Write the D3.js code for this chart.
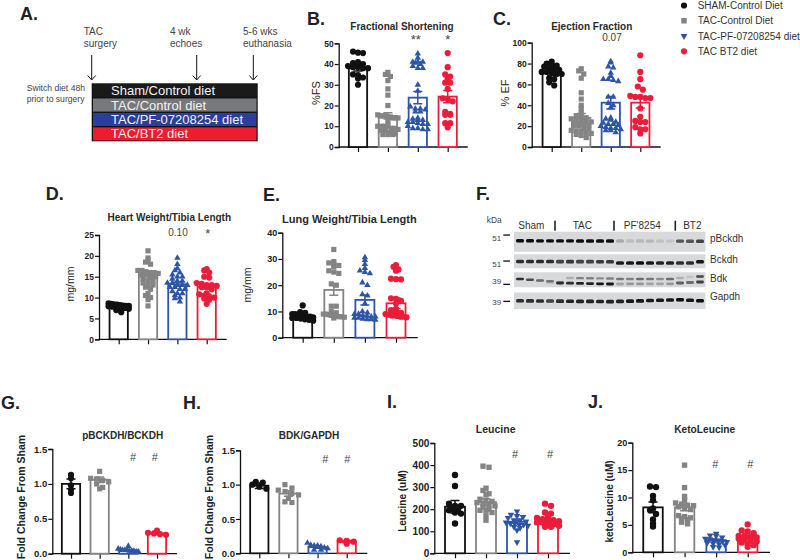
<!DOCTYPE html>
<html><head><meta charset="utf-8">
<script src="https://cdn.jsdelivr.net/npm/d3@7/dist/d3.min.js"></script>
<style>html,body{margin:0;padding:0;background:#fff}svg{display:block}text{font-family:"Liberation Sans",Arial,sans-serif}</style>
</head><body><svg id="c" width="800" height="560"></svg>
<script>
const groups = ["Sham","TAC","PF","BT2"];
const legendLabels = ["SHAM-Control Diet","TAC-Control Diet","TAC-PF-07208254 diet","TAC BT2 diet"];
const colors = ["#111111","#848484","#2c55a6","#ec1c3a"];

const fsSham=[46,45.5,45.3,41,40.5,40.2,40,39,38.5,38.5,38,38,35,34.7,33.5,33,30];
const fsTac=[36,35,34,32,28,25,20,15.5,15,15,15,14.5,14.5,14,14,14,13,11,10,10,10,10,9,9,8.5,8,8,7,6.5,6,6,6];
const fsPf=[45,43,41,41,41,40.5,40,39,38,38,30,27,19.5,18.5,18.5,18,17,17,14,13.5,13,13,12,12,11.5,11,11,10,9,9,8.5,8.5];
const fsBt2=[45.3,38.5,35,34,33,31,31,28,23.5,23,22,17,16,15.5,15.5,11.5,11.5,9.5];
const fsMeans=[38,15,23.8,24.3], fsSems=[1.3,1.5,3,3];

const efSham=[82,80,79,78,77,75,75,74,72,72,71,70,70,66,65,62,59];
const efTac=[75,73,70,66,52,46,40,37,33,30,29,28,27,26,25,25,24,23,22,22,21,20,20,18,17,16,15,15,14,13,12,11,9];
const efPf=[82,81,77,76,71,68,65,65,64,63,48,48,42,40,38,28,27,26,24,23,22,22,21,20,19,18,18,17,16,16,14];
const efBt2=[88,72,65,58,55,49,48,48,47,47,37,29,25,24,24,19,17,17,13];
const efMeans=[70.6,28,42.5,42.5], efSems=[2,4,6,5];

const hwSham=[8.6,8.5,8.4,8.3,8.2,8.1,8,8,7.9,7.8,7.7,7.6,7.5,7.3,7,6.5];
const hwTac=[21.2,19.5,19,18.5,18,16.5,16.5,16.2,16,16,15.8,15.5,15.5,15,15,14.5,14,14,13.5,13,13,12.5,12,11,10.5,10,9.5,8];
const hwPf=[19.5,18,17,16.5,16,15.5,15,15,14.5,14,14,13.5,13.5,13,13,13,12.5,12.5,12,12,11.5,11,11,10.5,10,9.8,9];
const hwBt2=[16.8,16.5,16,15,14.8,13.5,13.3,13,13,12.8,12.5,12.5,12,11,10.8,10.5,10.3,10,9.8,9.5,8.5];
const hwMeans=[8,15,13.2,12.6], hwSems=[0.15,0.6,0.5,0.5];

const lwSham=[12.3,9.8,9.5,9,9,8.8,8.5,8.5,8,8,7.8,7.5,7.5,7.3,7,6.8,6.5];
const lwTac=[33.6,29,28.5,28,27.5,27,25.5,25,24.5,20.5,20,12,12,10,9.5,9,9,8.8,8.5,8.5,8.2,8,8,7.8,7.5];
const lwPf=[30.6,29.5,28,26.5,25.5,25,24.5,21,20,16.5,16,13,10,9.5,9,9,8.5,8.3,8,8,7.5,7.5,7.2,7,7,6.8];
const lwBt2=[27.7,27,26,25.5,22.5,22.3,22.2,15,14.8,14,13,11,10.5,10,9.5,9,8.8,8.5,8.5,8.3,8,8,7.8];
const lwMeans=[7.8,18.2,14.4,13.1], lwSems=[0.3,2,1.9,2];

const pbSham=[1.13,1.08,0.98,0.92,0.87];
const pbTac=[1.18,1.08,1.07,1.05,1.03,1.0,0.95,0.93];
const pbPf=[0.11,0.07,0.06,0.05,0.05,0.05,0.04,0.04,0.04,0.03,0.03];
const pbBt2=[0.33,0.30,0.29,0.28,0.27];
const pbMeans=[1.0,1.06,0.05,0.29], pbSems=[0.07,0.04,0.01,0.015];

const bdSham=[1.04,1.03,1.0,0.97,0.94];
const bdTac=[1.0,0.95,0.92,0.9,0.87,0.85,0.8,0.75,0.74];
const bdPf=[0.15,0.12,0.11,0.11,0.1,0.08,0.07,0.05,0.05];
const bdBt2=[0.19,0.18,0.17,0.14];
const bdMeans=[0.985,0.87,0.09,0.17], bdSems=[0.04,0.04,0.015,0.015];

const leuSham=[355,305,225,215,215,205,200,195,185,180,135];
const leuTac=[395,390,295,285,270,265,245,240,235,230,225,220,215,210,200,195,195,185,170,150];
const leuPf=[190,175,170,165,160,150,150,145,140,135,135,130,130,125,120,115,105,50];
const leuBt2=[225,215,185,180,165,160,155,150,150,145,140,140,135,130,125,120,120];
const leuMeans=[211,232,143,150], leuSems=[28,15,8,8];

const klSham=[12.0,11.9,10.3,9.5,8,7.7,7,6,5.2,4.7];
const klTac=[15.9,11.8,10.2,9.5,9,8.8,8.6,8.5,8.3,8,7.8,6.7,6.5,6.3,6.2,6,5.5,5.2];
const klPf=[3.4,3.1,3,2.7,2.5,2.4,2.2,2.1,2,1.9,1.7,1.6,1.5,1.3,1,0.9];
const klBt2=[5.1,4,3.8,3.5,3,3,2.8,2.7,2.5,2.4,2.2,2,1.8,1.5,1.3,1];
const klMeans=[8.2,8.2,2.2,2.7], klSems=[1,0.6,0.2,0.25];

const timelineRows=["Sham/Control diet","TAC/Control diet","TAC/PF-07208254 diet","TAC/BT2 diet"];
const timelineFill=["#1a1a1a","#77787b","#2b3f9a","#ed1c2e"];
const blotGroups=["Sham","TAC","PF'8254","BT2"];
const blotTargets=["pBckdh","Bckdh","Bdk","Gapdh"];
const pBckdhBand=[1,1,1,1,1,1,1,1,1,1,.22,.12,.15,.16,.12,.1,.65,.65,.75];
const bckdhBand=[.85,.85,.85,.85,.75,.8,.75,.75,.8,.8,.95,.95,1,.95,.9,.9,.85,.85,.95];
const bdkUpperBand=[.85,.7,.55,.45,.1,.2,.4,.4,.35,.4,.45,.4,.5,.45,.35,.55,.2,.1,.7];
const bdkLowerBand=[0,0,0,.1,.85,.85,.9,.9,.95,.95,.25,.3,.3,.25,.25,.3,.6,.5,.75];
const gapdhBand=[.85,.85,.85,.75,.85,.9,.9,.9,.9,.9,.9,.95,.95,.95,.95,.95,1,.95,1];

const svg=d3.select("#c");
const ink="#222";
const T=(s,x,y,size,o={})=>svg.append("text").attr("x",x).attr("y",y).attr("font-size",size)
  .attr("font-weight",o.w||"normal").attr("fill",o.c||ink).attr("text-anchor",o.a||"start").text(s);
const symbols=[d3.symbolCircle,d3.symbolSquare,d3.symbolTriangle,d3.symbolCircle];

// Prism-style scatter: values falling in the same pixel row are spread symmetrically
function swarm(vals,y,rowH,spacing,maxW){
  const rows=d3.groups([...vals].sort((a,b)=>b-a),v=>Math.round(y(v)/rowH));
  const out=[];
  rows.forEach(([,vs])=>{
    const n=vs.length, sp=n>1?Math.min(spacing,2*maxW/(n-1)):0;
    [...vs].forEach((v,i)=>out.push({x:(i-(n-1)/2)*sp,y:y(v)}));
  });
  return out;
}

function panel(p){
  const g=svg.append("g");
  const x=d3.scalePoint().domain(groups).range([p.x0,p.x1]);
  const y=d3.scaleLinear().domain([0,p.max]).range([p.y0,p.y1]);
  const yG=g.append("g").attr("transform",`translate(${p.ax},0)`)
    .call(d3.axisLeft(y).tickValues(p.ticks).tickFormat(p.fmt||d3.format("d")).tickSize(4).tickPadding(1));
  const xG=g.append("g").attr("transform",`translate(0,${p.y0})`)
    .call(d3.axisBottom(d3.scalePoint().domain(groups).range([p.x0,p.x1])).tickSize(5).tickFormat(""));
  xG.select(".domain").attr("d",`M${p.ax},0H${p.end}`);
  g.selectAll(".domain").attr("stroke","#111").attr("stroke-width",1.3);
  g.selectAll(".tick line").attr("stroke","#111").attr("stroke-width",1.2);
  yG.selectAll("text").attr("font-size",p.tick).attr("font-weight","bold").attr("fill","#222").attr("font-family",'"Liberation Sans"');
  groups.forEach((k,i)=>{
    const c=colors[i], cx=x(k), m=p.means[i], s=p.sems[i];
    g.append("rect").attr("x",cx-p.bw/2).attr("y",y(m)).attr("width",p.bw).attr("height",p.y0-y(m))
      .attr("fill","#fff").attr("stroke",c).attr("stroke-width",1.8);
    const path=d3.symbol(symbols[i],i===1?p.ms*.9:(i===2?p.ms*.6:p.ms))();
    swarm(p.vals[i],y,p.row||4,p.sp||5,p.bw/2+1).forEach(pt=>{
      g.append("path").attr("d",path).attr("fill",c)
       .attr("transform",`translate(${cx+pt.x},${pt.y})`+(i===2&&p.down?" rotate(180)":""));
    });
    g.append("path").attr("fill","none").attr("stroke",c).attr("stroke-width",1.5)
      .attr("d",`M${cx-4.5},${y(m+s)}H${cx+4.5}M${cx},${y(m+s)}V${y(m-s)}M${cx-4.5},${y(m-s)}H${cx+4.5}`);
  });
  T(p.title,p.tx,p.ty,p.tf||10,{w:"bold",a:"middle",c:"#2a2a2a"});
  const yl=T(p.yl,0,0,p.ylf||10,{w:p.ylw||"bold",a:"middle"});
  yl.attr("transform",`translate(${p.ylx},${p.yly}) rotate(-90)`).attr("x",0).attr("y",0);
  (p.notes||[]).forEach(n=>T(n.s,n.x,n.y,n.f||10,{a:"middle",c:"#444"}));
  T(p.letter,p.lx,p.ly,18,{w:"bold"});
}

const panels=[
 {letter:"B.",lx:307,ly:25,x0:358,x1:447.7,ax:338.7,end:467.7,y0:147,y1:43.3,max:50,ticks:[0,10,20,30,40,50],tick:8.5,bw:18.3,ms:30,
  vals:[fsSham,fsTac,fsPf,fsBt2],means:fsMeans,sems:fsSems,title:"Fractional Shortening",tx:402,ty:29.5,yl:"%FS",ylx:320,yly:93,ylf:11,ylw:"normal",
  notes:[{s:"**",x:415.7,y:43.5,f:13},{s:"*",x:447.7,y:43.5,f:13}]},
 {letter:"C.",lx:493,ly:25,x0:551.7,x1:640.3,ax:531.7,end:660.7,y0:147,y1:42.7,max:100,ticks:[0,20,40,60,80,100],tick:8.5,bw:18.3,ms:30,
  vals:[efSham,efTac,efPf,efBt2],means:efMeans,sems:efSems,title:"Ejection Fraction",tx:591.7,ty:29.5,yl:"% EF",ylx:509,yly:93,ylf:11,ylw:"normal",
  notes:[{s:"0.07",x:612,y:41}]},
 {letter:"D.",lx:45.7,ly:200,x0:118.7,x1:206.7,ax:99,end:226.7,y0:339.3,y1:235,max:25,ticks:[0,5,10,15,20,25],tick:8.5,bw:18.3,ms:30,
  vals:[hwSham,hwTac,hwPf,hwBt2],means:hwMeans,sems:hwSems,title:"Heart Weight/Tibia Length",tx:169.3,ty:221,tf:10,yl:"mg/mm",ylx:74,yly:284,ylf:10.5,ylw:"normal",
  notes:[{s:"0.10",x:178,y:236},{s:"*",x:207.7,y:238,f:13}]},
 {letter:"E.",lx:263,ly:200.5,x0:302.7,x1:396,ax:282.3,end:417.7,y0:337.7,y1:232.7,max:40,ticks:[0,10,20,30,40],tick:9,bw:19,ms:30,
  vals:[lwSham,lwTac,lwPf,lwBt2],means:lwMeans,sems:lwSems,title:"Lung Weight/Tibia Length",tx:349.3,ty:222.5,tf:11,yl:"mg/mm",ylx:251,yly:285,ylf:10.5,ylw:"normal"},
 {letter:"G.",lx:1,ly:409,x0:71,x1:157,ax:52.3,end:177,y0:553.7,y1:449,max:1.5,ticks:[0,.5,1,1.5],fmt:d3.format(".1f"),tick:9.5,bw:18.3,ms:30,row:5,sp:6,
  vals:[pbSham,pbTac,pbPf,pbBt2],means:pbMeans,sems:pbSems,title:"pBCKDH/BCKDH",tx:122.7,ty:439,tf:10,yl:"Fold  Change From Sham",ylx:25,yly:497,ylf:10.5,
  notes:[{s:"#",x:133,y:460.5,f:11},{s:"#",x:154.7,y:460.5,f:11}]},
 {letter:"H.",lx:183,ly:409,x0:259.3,x1:346.7,ax:240,end:367.3,y0:553.3,y1:450.3,max:1.5,ticks:[0,.5,1,1.5],fmt:d3.format(".1f"),tick:9.5,bw:18.3,ms:30,row:6,sp:7,
  vals:[bdSham,bdTac,bdPf,bdBt2],means:bdMeans,sems:bdSems,title:"BDK/GAPDH",tx:309,ty:439,tf:10,yl:"Fold  Change From Sham",ylx:213,yly:497,ylf:10.5,
  notes:[{s:"#",x:325.3,y:462.5,f:11},{s:"#",x:347.3,y:462.5,f:11}]},
 {letter:"I.",lx:387,ly:408,x0:455,x1:548,ax:434.3,end:570,y0:553.3,y1:443,max:500,ticks:[0,100,200,300,400,500],tick:10,bw:20,ms:32,down:true,sp:6,
  vals:[leuSham,leuTac,leuPf,leuBt2],means:leuMeans,sems:leuSems,title:"Leucine",tx:495.7,ty:433,tf:10.5,yl:"Leucine  (uM)",ylx:406,yly:501,ylf:10,
  notes:[{s:"#",x:515,y:458,f:11},{s:"#",x:550,y:458,f:11}]},
 {letter:"J.",lx:588,ly:408,x0:653,x1:747.7,ax:632.3,end:770,y0:552.3,y1:442.7,max:20,ticks:[0,5,10,15,20],tick:9,bw:19.5,ms:32,down:true,sp:6,
  vals:[klSham,klTac,klPf,klBt2],means:klMeans,sems:klSems,title:"KetoLeucine",tx:704.7,ty:433,tf:10.2,yl:"ketoLeucine  (uM)",ylx:612.5,yly:501.5,ylf:10,
  notes:[{s:"#",x:715.3,y:468,f:11},{s:"#",x:750.3,y:468,f:11}]}
];
panels.forEach(panel);

// legend
const legendY=d3.scalePoint().domain(legendLabels).range([5.5,51.3]);
legendLabels.forEach((l,i)=>{
  const sym=symbols[i];
  svg.append("path").attr("d",d3.symbol(sym,i===3?30:(i===2?20:30))()).attr("fill",colors[i])
    .attr("transform",`translate(684,${legendY(l)})`+(i===2?" rotate(180)":""));
  T(l,697.7,legendY(l)+3.5,10,{c:"#333"});
});

// panel A: timeline
T("A.",20,20,18,{w:"bold"});
[["TAC","surgery",83.7],["4 wk","echoes",170],["5-6 wks","euthanasia",243]].forEach(a=>{
  T(a[0],a[2],35,10,{c:"#444"}); T(a[1],a[2],47,10,{c:"#444"});
});
[91.7,196.7,253.3].forEach(x=>{
  svg.append("path").attr("fill","none").attr("stroke","#111").attr("stroke-width",1)
    .attr("d",`M${x},55V79.5M${x-4},75.5L${x},80L${x+4},75.5`);
});
T("Switch diet 48h",26.7,91,8.6,{c:"#444"});
T("prior to surgery",26.7,101.5,8.6,{c:"#444"});
svg.append("rect").attr("x",91.7).attr("y",83.3).attr("width",166).attr("height",58).attr("fill","#111");
const rowY=d3.scaleBand().domain(timelineRows).range([84,140.5]).paddingInner(.09);
timelineRows.forEach((r,i)=>{
  svg.append("rect").attr("x",93).attr("y",rowY(r)).attr("width",163.5).attr("height",rowY.bandwidth()).attr("fill",timelineFill[i]);
  T(r,111,rowY(r)+rowY.bandwidth()/2+4.5,13,{c:"#f2f2f2"});
});

// panel F: western blot
T("F.",476,200,18,{w:"bold"});
T("kDa",486.7,222.7,8.4,{c:"#444"});
[["Sham",531.3],["TAC",582.3],["PF'8254",642.3],["BT2",692.3]].forEach((b,i)=>T(blotGroups[i],b[1],228.7,10,{a:"middle",c:"#333"}));
[555,614,675.3].forEach(x=>svg.append("rect").attr("x",x-.8).attr("y",220.7).attr("width",1.6).attr("height",10).attr("fill","#222"));
const defs=svg.append("defs");
defs.append("filter").attr("id","blur").attr("x","-20%").attr("y","-100%").attr("width","140%").attr("height","300%")
  .append("feGaussianBlur").attr("stdDeviation","0.6 0.7");
const laneX=d3.scaleBand().domain(d3.range(19)).range([515,705]);
const drift=(d,r)=>d3.scaleLinear().domain(d).range(r);
const rows=[
 {t:[231.7,251.7],lab:241.7,bands:[{v:pBckdhBand,y:drift([0,18],[240.8,241.2]),h:3.4}]},
 {t:[254.3,268.3],lab:262.7,bands:[{v:bckdhBand,y:drift([0,9,10,17,18],[261.5,261.7,263,263,261.8]),h:3.6}]},
 {t:[272.3,287.3],lab:282,bands:[{v:bdkUpperBand,y:drift([0,4,5,9,10,15,17,18],[279,282,278,278.5,279,279,277,276.5]),h:2.4},
   {v:bdkLowerBand,y:drift([0,4,9,10,15,16,18],[282,283,284,284,283.8,283,282]),h:2.8}]},
 {t:[292.5,309],lab:300.3,bands:[{v:gapdhBand,y:drift([0,9,16,18],[300.8,301.6,299.8,300.8]),h:3.6}]}
];
rows.forEach((r,i)=>{
  svg.append("rect").attr("x",514).attr("y",r.t[0]).attr("width",191.5).attr("height",r.t[1]-r.t[0]).attr("fill","#d8d9db");
  const g=svg.append("g").attr("filter","url(#blur)");
  r.bands.forEach(b=>b.v.forEach((iv,l)=>{
    g.append("rect").attr("x",laneX(l)+1).attr("y",b.y(l)-b.h/2).attr("width",laneX.bandwidth()-2).attr("height",b.h)
     .attr("rx",1.5).attr("fill","#0c0c0c").attr("opacity",iv);
  }));
  T(blotTargets[i],710,r.lab,10,{c:"#333"});
});
[["51",241,235],["51",266.7,261],["39",284,284.3],["39",305.3,301.3]].forEach(k=>{
  T(k[0],492.3,k[1],8,{c:"#444"});
  svg.append("rect").attr("x",503.3).attr("y",k[2]-.6).attr("width",6.7).attr("height",1.3).attr("fill","#111");
});
</script></body></html>
